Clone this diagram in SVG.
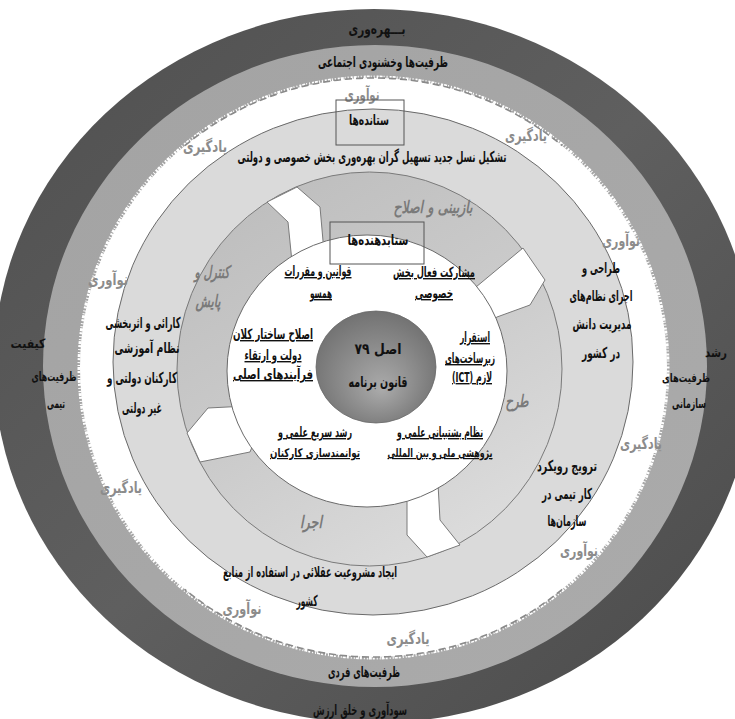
<svg xmlns="http://www.w3.org/2000/svg" width="735" height="719" viewBox="0 0 735 719">
<defs>
<linearGradient id="gDark" x1="0" y1="0" x2="1" y2="1">
<stop offset="0" stop-color="#4f4f4f"/><stop offset="0.5" stop-color="#5f5f5f"/><stop offset="1" stop-color="#4a4a4a"/>
</linearGradient>
<linearGradient id="gMid" x1="0" y1="0" x2="1" y2="1">
<stop offset="0" stop-color="#a3a3a3"/><stop offset="1" stop-color="#ababab"/>
</linearGradient>
<linearGradient id="gRing" x1="0.2" y1="0" x2="0.8" y2="1">
<stop offset="0" stop-color="#bdbdbd"/><stop offset="0.5" stop-color="#cbcbcb"/><stop offset="1" stop-color="#dedede"/>
</linearGradient>
<radialGradient id="gCore" cx="0.5" cy="0.55" r="0.55" fx="0.55" fy="0.7">
<stop offset="0" stop-color="#ababab"/><stop offset="1" stop-color="#727272"/>
</radialGradient>
<style>
.t{font-family:"DejaVu Sans",sans-serif;font-weight:bold;font-size:15px;fill:#111;text-anchor:middle;direction:rtl}
.s{font-size:13px}
.g{fill:#8c8c8c;font-size:16px}
.c{fill:#7a7a7a;font-style:italic;font-size:17px}
.u{text-decoration:underline;font-size:14px}
.w{font-size:12px}
.notch{fill:#fff;stroke:#7a7a7a;stroke-width:1}
.box{fill:none;stroke:#555;stroke-width:1}
.dash{fill:none;stroke:#8a8a8a;stroke-width:1.6;stroke-dasharray:7 4}
</style>
</defs>
<rect width="735" height="719" fill="#fff"/>
<g id="ring-outer">
<ellipse cx="374" cy="366" rx="380" ry="357" fill="url(#gDark)"/>
<ellipse cx="375" cy="366" rx="332" ry="321" fill="url(#gMid)"/>
<ellipse cx="373.5" cy="367.5" rx="293.5" ry="289.5" fill="#fff"/>
<ellipse cx="373.5" cy="367.5" rx="294.5" ry="290.5" fill="none" stroke="#fff" stroke-width="3" stroke-dasharray="1 2 2 1 3 1 1 2"/>
<path class="dash" d="M184.8,145.7 A293.5,289.5 0 0 1 562.2,145.7"/>
<path class="dash" d="M562.2,589.3 A293.5,289.5 0 0 1 184.8,589.3"/>
</g>
<g id="disk-light">
<ellipse cx="373" cy="362" rx="260" ry="253" fill="#dadada" stroke="#6a6a6a" stroke-width="1"/>
</g>
<g id="ring-cycle">
<ellipse cx="369.5" cy="369" rx="192.5" ry="197" fill="url(#gRing)" stroke="#7a7a7a" stroke-width="1"/>
</g>
<g id="connectors">
<polygon class="notch" points="267,202 297,187 320,207 324,252 292,262 288,222"/>
<polygon class="notch" points="470,292 523,248 545,280 530,305 497,317 490,322"/>
<polygon class="notch" points="187,433 208,408 247,406 258,432 250,452 200,462"/>
<polygon class="notch" points="407,497 438,484 440,520 460,545 427,557 407,535"/>
</g>
<g id="disk-inner">
<ellipse cx="367" cy="371" rx="140" ry="136" fill="#fff" stroke="#6a6a6a" stroke-width="1"/>
</g>
<g id="core">
<ellipse cx="376" cy="367" rx="60" ry="56" fill="url(#gCore)" stroke="#6a6a6a" stroke-width="0.8"/>
<text class="t" x="378" y="354" font-size="16" textLength="47" lengthAdjust="spacingAndGlyphs">اصل ۷۹</text>
<text class="t" x="378" y="387" font-size="16" textLength="59" lengthAdjust="spacingAndGlyphs">قانون برنامه</text>
</g>
<g id="outer-labels">
<text class="t" x="377" y="34" font-size="17" textLength="57" lengthAdjust="spacingAndGlyphs">بـــهره&#x200C;وری</text>
<text class="t" x="383" y="67" font-size="16" textLength="130" lengthAdjust="spacingAndGlyphs">ظرفیت&#x200C;ها وخشنودی اجتماعی</text>
<text class="t s" x="28" y="348" textLength="35" lengthAdjust="spacingAndGlyphs">کیفیت</text>
<text class="t s" x="54" y="381" textLength="45" lengthAdjust="spacingAndGlyphs">ظرفیت&#x200C;های</text>
<text class="t s" x="56" y="408" textLength="18" lengthAdjust="spacingAndGlyphs">تیمی</text>
<text class="t s" x="716" y="357" textLength="22" lengthAdjust="spacingAndGlyphs">رشد</text>
<text class="t w" x="686" y="382" textLength="48" lengthAdjust="spacingAndGlyphs">ظرفیت&#x200C;های</text>
<text class="t s" x="689" y="408" textLength="34" lengthAdjust="spacingAndGlyphs">سازمانی</text>
<text class="t" x="364" y="677" textLength="72" lengthAdjust="spacingAndGlyphs">ظرفیت&#x200C;های فردی</text>
<text class="t" x="360" y="715" font-size="16" textLength="94" lengthAdjust="spacingAndGlyphs">سودآوری و خلق  ارزش</text>
</g>
<g id="gray-labels">
<text class="t g" x="362" y="100" textLength="35" lengthAdjust="spacingAndGlyphs">نوآوری</text>
<text class="t g" x="205" y="152" textLength="44" lengthAdjust="spacingAndGlyphs">یادگیری</text>
<text class="t g" x="526" y="141" textLength="42" lengthAdjust="spacingAndGlyphs">یادگیری</text>
<text class="t g" x="108" y="285" textLength="40" lengthAdjust="spacingAndGlyphs">نوآوری</text>
<text class="t g" x="621" y="246" textLength="38" lengthAdjust="spacingAndGlyphs">نوآوری</text>
<text class="t g" x="641" y="449" textLength="42" lengthAdjust="spacingAndGlyphs">یادگیری</text>
<text class="t g" x="121" y="493" textLength="42" lengthAdjust="spacingAndGlyphs">یادگیری</text>
<text class="t g" x="579" y="556" textLength="38" lengthAdjust="spacingAndGlyphs">نوآوری</text>
<text class="t g" x="242" y="614" textLength="39" lengthAdjust="spacingAndGlyphs">نوآوری</text>
<text class="t g" x="408" y="644" textLength="43" lengthAdjust="spacingAndGlyphs">یادگیری</text>
</g>
<g id="outputs">
<rect class="box" x="336" y="100" width="68" height="45"/>
<text class="t" x="369" y="125" textLength="40" lengthAdjust="spacingAndGlyphs">ستانده&#x200C;ها</text>
<text class="t" x="372" y="162" textLength="269" lengthAdjust="spacingAndGlyphs">تشکیل نسل جدید تسهیل گران بهره&#x200C;وری بخش خصوصی و دولتی</text>
<text class="t" x="143" y="328" textLength="75" lengthAdjust="spacingAndGlyphs">کارائی و اثربخشی</text>
<text class="t" x="147" y="353" textLength="65" lengthAdjust="spacingAndGlyphs">نظام آموزشی</text>
<text class="t" x="142" y="383" textLength="70" lengthAdjust="spacingAndGlyphs">کارکنان دولتی و</text>
<text class="t" x="142" y="413" textLength="40" lengthAdjust="spacingAndGlyphs">غیر دولتی</text>
<text class="t" x="601" y="273" textLength="38" lengthAdjust="spacingAndGlyphs">طراحی و</text>
<text class="t" x="601" y="301" textLength="63" lengthAdjust="spacingAndGlyphs">اجرای نظام&#x200C;های</text>
<text class="t" x="602" y="329" textLength="59" lengthAdjust="spacingAndGlyphs">مدیریت دانش</text>
<text class="t" x="601" y="358" textLength="38" lengthAdjust="spacingAndGlyphs">در کشور</text>
<text class="t" x="567" y="471" textLength="60" lengthAdjust="spacingAndGlyphs">ترویج رویکرد</text>
<text class="t" x="567" y="499" textLength="50" lengthAdjust="spacingAndGlyphs">کار تیمی در</text>
<text class="t" x="567" y="526" textLength="39" lengthAdjust="spacingAndGlyphs">سازمان&#x200C;ها</text>
<text class="t" x="310" y="577" textLength="174" lengthAdjust="spacingAndGlyphs">ایجاد مشروعیت عقلائی در استفاده از منابع</text>
<text class="t" x="307" y="606" textLength="21" lengthAdjust="spacingAndGlyphs">کشور</text>
</g>
<g id="cycle-labels">
<text class="t c" x="433" y="213" textLength="79" lengthAdjust="spacingAndGlyphs">بازبینی و اصلاح</text>
<text class="t c" x="212" y="278" textLength="35" lengthAdjust="spacingAndGlyphs">کنترل و</text>
<text class="t c" x="208" y="307" textLength="25" lengthAdjust="spacingAndGlyphs">پایش</text>
<text class="t c" x="517" y="407" textLength="23" lengthAdjust="spacingAndGlyphs">طرح</text>
<text class="t c" x="311" y="528" textLength="22" lengthAdjust="spacingAndGlyphs">اجرا</text>
</g>
<g id="inputs">
<rect class="box" x="330" y="222" width="94" height="42"/>
<text class="t" x="378" y="245" textLength="61" lengthAdjust="spacingAndGlyphs">ستابدهنده&#x200C;ها</text>
<text class="t u" x="318" y="276" textLength="67" lengthAdjust="spacingAndGlyphs">قوانین و مقررات</text>
<text class="t u" x="321" y="298" textLength="22" lengthAdjust="spacingAndGlyphs">همسو</text>
<text class="t u" x="434" y="277" textLength="82" lengthAdjust="spacingAndGlyphs">مشارکت فعال بخش</text>
<text class="t u" x="434" y="298" textLength="38" lengthAdjust="spacingAndGlyphs">خصوصی</text>
<text class="t u" x="273" y="339" textLength="80" lengthAdjust="spacingAndGlyphs">اصلاح ساختار کلان</text>
<text class="t u" x="273" y="360" textLength="57" lengthAdjust="spacingAndGlyphs">دولت و ارتقاء</text>
<text class="t u" x="273" y="379" textLength="80" lengthAdjust="spacingAndGlyphs">فرآیندهای اصلی</text>
<text class="t u" x="475" y="342" textLength="30" lengthAdjust="spacingAndGlyphs">استقرار</text>
<text class="t u" x="470" y="363" textLength="50" lengthAdjust="spacingAndGlyphs">زیرساخت&#x200C;های</text>
<text class="t u" x="472" y="382" textLength="40" lengthAdjust="spacingAndGlyphs">لازم (ICT)</text>
<text class="t u" x="440" y="437" textLength="86" lengthAdjust="spacingAndGlyphs">نظام پشتیبانی علمی و</text>
<text class="t u w" x="440" y="457" textLength="105" lengthAdjust="spacingAndGlyphs">پژوهشی ملی و بین المللی</text>
<text class="t u" x="315" y="437" textLength="74" lengthAdjust="spacingAndGlyphs">رشد سریع علمی و</text>
<text class="t u w" x="315" y="457" textLength="90" lengthAdjust="spacingAndGlyphs">توانمندسازی کارکنان</text>
</g>
</svg>
